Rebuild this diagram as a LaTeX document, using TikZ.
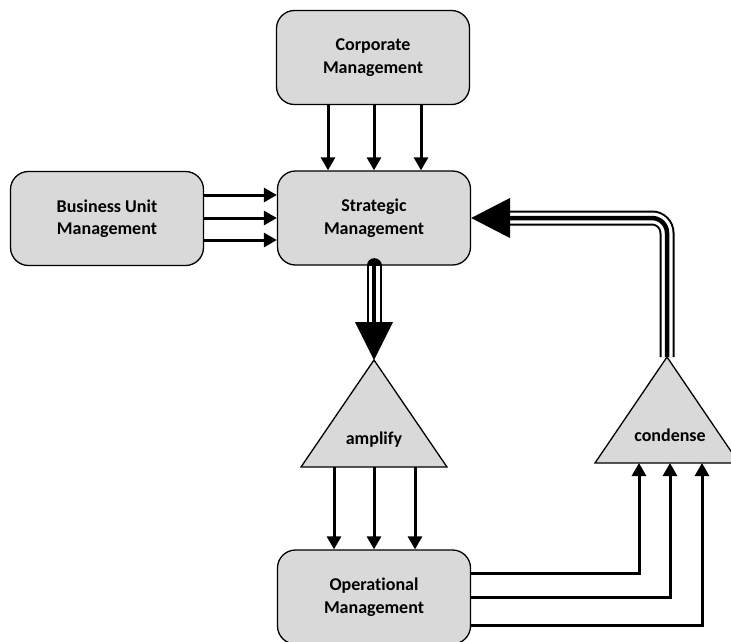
\documentclass[tikz,border=0pt]{standalone}
\usepackage{fontspec}
\setmainfont{Carlito}[Ligatures=NoCommon]
\usetikzlibrary{arrows.meta}
\definecolor{boxfill}{HTML}{D9D9D9}
\begin{document}
\begin{tikzpicture}[x=1pt,y=-1pt,
  mgmt/.style={draw, line width=1.3pt, fill=boxfill, rounded corners=18pt,
    minimum width=193pt, minimum height=94pt, inner sep=0pt, align=center,
    font=\bfseries\fontsize{18}{22.5}\selectfont},
  funnel/.style={draw, line width=1.3pt, fill=boxfill, line join=miter},
  fnlabel/.style={inner sep=0pt, font=\bfseries\fontsize{18}{22.5}\selectfont},
  flow/.style={line width=3pt, -{Triangle[width=14pt,length=13pt]}},
  pipeouter/.style={line width=15pt, black},
  pipemid/.style={line width=11pt, white},
  pipecore/.style={line width=4.5pt, black},
]
\useasboundingbox (0,0) rectangle (731,641);
\clip (0,0) rectangle (731,641);

% management units
\node[mgmt] (corp)  at (373,57.5) {Corporate\\Management};
\node[mgmt] (bu)    at (107,218.5) {Business Unit\\Management};
\node[mgmt] (strat) at (374,218)  {Strategic\\Management};
\node[mgmt] (op)    at (374,597)  {Operational\\Management};

% amplifier and condenser
\coordinate (ampApex) at (374,360);
\coordinate (ampL) at (301,467);
\coordinate (ampR) at (447,467);
\draw[funnel] (ampApex) -- (ampR) -- (ampL) -- cycle;
\node[fnlabel] (amplify) at (374,440) {amplify};

\coordinate (conApex) at (667,357);
\coordinate (conL) at (595,463);
\coordinate (conR) at (739,463);
\draw[funnel] (conApex) -- (conR) -- (conL) -- cycle;
\node[fnlabel] (condense) at (670,435) {condense};

% single channels
\foreach \x in {328,374,421}
  \draw[flow] (corp.south -| \x,0) -- (strat.north -| \x,0);
\foreach \y in {195,218,240}
  \draw[flow] (bu.east |- 0,\y) -- (strat.west |- 0,\y);
\foreach \x in {334,374,415}
  \draw[flow] (ampL -| \x,0) -- (op.north -| \x,0);
\draw[flow] (op.east |- 0,573) -| (conL -| 639,0);
\draw[flow] (op.east |- 0,597) -| (conL -| 670,0);
\draw[flow] (op.east |- 0,625) -| (conL -| 702,0);

% strategic channel down to the amplifier
\draw[pipeouter, line cap=round] (strat.south) -- (374,323);
\draw[pipemid] (strat.south) -- (374,323);
\draw[pipecore] (strat.south) -- (374,323);
\fill (355,322) -- (393,322) -- (ampApex) -- cycle;

% condensed channel back to strategic management
\coordinate (retEnd) at (509,218);
\draw[pipeouter, rounded corners=15pt] (conApex) |- (retEnd);
\draw[pipemid, rounded corners=15pt] (conApex) |- (retEnd);
\draw[pipecore, rounded corners=15pt] (conApex) |- (retEnd);
\fill (strat.east) -- (510,198) -- (510,238) -- cycle;
\end{tikzpicture}
\end{document}
